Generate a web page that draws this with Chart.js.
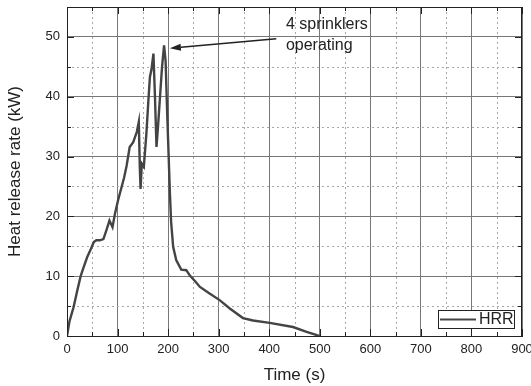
<!DOCTYPE html>
<html>
<head>
<meta charset="utf-8">
<script src="https://cdn.jsdelivr.net/npm/chart.js@4"></script>
<style>
  html, body { margin: 0; padding: 0; background: #fff; }
  #wrap { position: relative; width: 531px; height: 386px; }
</style>
</head>
<body>
<div id="wrap"><canvas id="c"></canvas></div>
<script>
// ---- data ----
const timeS = [0, 5, 13, 20, 27, 33, 40, 47, 53, 58, 65, 72, 78, 84, 90, 95, 101, 108, 113, 118, 124, 131, 138, 142, 144, 145.5, 148, 152, 157, 161, 164, 167, 171, 174, 177, 180, 184, 188, 192, 195, 198, 200, 203.5, 206, 210, 216, 226, 236, 243, 253, 263, 282, 302, 322, 348, 368, 401, 447, 474, 496, 500];
const hrrKW = [0, 2.5, 4.8, 7.5, 10, 11.5, 13.2, 14.5, 15.7, 16, 16, 16.2, 17.7, 19.3, 18.2, 20.5, 22.7, 24.9, 26.5, 28.5, 31.6, 32.4, 34.1, 35.8, 28.3, 24.6, 28.8, 28.3, 33.8, 39.4, 43.3, 44.5, 47.2, 40, 31.6, 35, 40, 45, 48.6, 46, 37.7, 32.7, 24, 19, 14.9, 12.7, 11.1, 11, 10.1, 9.2, 8.2, 7.1, 6.0, 4.6, 3.0, 2.6, 2.2, 1.5, 0.7, 0.1, 0];
const seriesLabel = 'HRR';
const xTitle = 'Time (s)';
const yTitle = 'Heat release rate (kW)';
const xMajorTicks = [0, 100, 200, 300, 400, 500, 600, 700, 800, 900];
const xMinorTicks = [50, 150, 250, 350, 450, 550, 650, 750, 850];
const yMajorTicks = [0, 10, 20, 30, 40, 50];
const yMinorTicks = [5, 15, 25, 35, 45];
const noteLines = ['4 sprinklers', 'operating'];

const FONT = '"Liberation Sans", Arial, sans-serif';
const INK = '#222';

const annotation = {
  textAt: { x: 433, y: 52.0 },      // data coords of first text line start
  lineGap: 21,                      // px between lines
  arrowFrom: { x: 414, y: 49.7 },
  arrowTo: { x: 203.5, y: 48.1 }
};

const decorPlugin = {
  id: 'decor',
  beforeDatasetsDraw(chart) {
    const { ctx, chartArea: a, scales: { x, y } } = chart;
    ctx.save();
    // minor dotted grid
    ctx.strokeStyle = '#a8a8a8';
    ctx.lineWidth = 1;
    ctx.setLineDash([2, 3]);
    xMinorTicks.forEach(v => {
      const px = Math.round(x.getPixelForValue(v)) + 0.5;
      ctx.beginPath(); ctx.moveTo(px, a.top); ctx.lineTo(px, a.bottom); ctx.stroke();
    });
    yMinorTicks.forEach(v => {
      const py = Math.round(y.getPixelForValue(v)) + 0.5;
      ctx.beginPath(); ctx.moveTo(a.left, py); ctx.lineTo(a.right, py); ctx.stroke();
    });
    ctx.setLineDash([]);
    // inward ticks on all four sides
    ctx.strokeStyle = INK;
    const tick = (vals, len, isX) => vals.forEach(v => {
      if (isX) {
        const px = Math.round(x.getPixelForValue(v)) + 0.5;
        ctx.beginPath(); ctx.moveTo(px, a.bottom); ctx.lineTo(px, a.bottom - len); ctx.stroke();
        ctx.beginPath(); ctx.moveTo(px, a.top); ctx.lineTo(px, a.top + len); ctx.stroke();
      } else {
        const py = Math.round(y.getPixelForValue(v)) + 0.5;
        ctx.beginPath(); ctx.moveTo(a.left, py); ctx.lineTo(a.left + len, py); ctx.stroke();
        ctx.beginPath(); ctx.moveTo(a.right, py); ctx.lineTo(a.right - len, py); ctx.stroke();
      }
    });
    tick(xMajorTicks, 7, true); tick(xMinorTicks, 4, true);
    tick(yMajorTicks, 7, false); tick(yMinorTicks, 4, false);
    ctx.restore();
  },
  afterDraw(chart) {
    const { ctx, chartArea: a, scales: { x, y } } = chart;
    ctx.save();
    // frame
    ctx.strokeStyle = INK;
    ctx.lineWidth = 1;
    ctx.strokeRect(Math.round(a.left) + 0.5, Math.round(a.top) + 0.5,
                   Math.round(a.right - a.left) - 1, Math.round(a.bottom - a.top));
    // annotation arrow
    const x1 = x.getPixelForValue(annotation.arrowFrom.x), y1 = y.getPixelForValue(annotation.arrowFrom.y);
    const x2 = x.getPixelForValue(annotation.arrowTo.x), y2 = y.getPixelForValue(annotation.arrowTo.y);
    const ang = Math.atan2(y2 - y1, x2 - x1);
    const hl = 11, hw = 3.5;
    const bx = x2 - hl * Math.cos(ang), by = y2 - hl * Math.sin(ang);
    ctx.lineWidth = 1.4;
    ctx.beginPath(); ctx.moveTo(x1, y1); ctx.lineTo(bx, by); ctx.stroke();
    ctx.fillStyle = INK;
    ctx.beginPath();
    ctx.moveTo(x2, y2);
    ctx.lineTo(bx + hw * Math.sin(ang), by - hw * Math.cos(ang));
    ctx.lineTo(bx - hw * Math.sin(ang), by + hw * Math.cos(ang));
    ctx.closePath(); ctx.fill();
    // annotation text
    ctx.font = '16px ' + FONT;
    ctx.textAlign = 'left';
    ctx.textBaseline = 'middle';
    const tx = x.getPixelForValue(annotation.textAt.x), ty = y.getPixelForValue(annotation.textAt.y);
    noteLines.forEach((t, i) => ctx.fillText(t, tx, ty + i * annotation.lineGap));
    // legend box (bottom right inside plot)
    const lw = 76, lh = 18;
    const lx = Math.round(a.right) - 8 - lw, ly = Math.round(a.bottom) - 8 - lh;
    ctx.fillStyle = '#fff';
    ctx.fillRect(lx, ly, lw, lh);
    ctx.lineWidth = 1;
    ctx.strokeStyle = INK;
    ctx.strokeRect(lx + 0.5, ly + 0.5, lw, lh);
    const ds = chart.data.datasets[0];
    ctx.strokeStyle = ds.borderColor;
    ctx.lineWidth = 2.2;
    ctx.beginPath(); ctx.moveTo(lx + 2, ly + lh / 2 + 0.5); ctx.lineTo(lx + 38, ly + lh / 2 + 0.5); ctx.stroke();
    ctx.fillStyle = INK;
    ctx.font = '16px ' + FONT;
    ctx.fillText(ds.label, lx + 41, ly + lh / 2 + 1);
    ctx.restore();
  }
};

new Chart(document.getElementById('c'), {
  type: 'line',
  data: {
    datasets: [{
      label: seriesLabel,
      data: timeS.map((t, i) => ({ x: t, y: hrrKW[i] })),
      borderColor: '#444',
      borderWidth: 2.4,
      pointRadius: 0,
      tension: 0,
      fill: false
    }]
  },
  options: {
    responsive: true,
    maintainAspectRatio: false,
    animation: false,
    events: [],
    layout: { padding: { top: 7, right: 9, left: 0, bottom: 0 } },
    plugins: { legend: { display: false }, tooltip: { enabled: false } },
    scales: {
      x: {
        type: 'linear', min: 0, max: 900,
        afterBuildTicks: s => { s.ticks = xMajorTicks.map(v => ({ value: v })); },
        afterFit: s => { s.height = 50; s.paddingLeft = 0; s.paddingRight = 0; },
        ticks: { font: { size: 13, family: FONT }, color: INK, padding: 6, maxRotation: 0 },
        grid: { color: '#777', lineWidth: 1, drawTicks: false },
        border: { color: INK },
        title: { display: true, text: xTitle, color: INK, font: { size: 17, family: FONT }, padding: { top: 0, bottom: 0 } }
      },
      y: {
        type: 'linear', min: 0, max: 55,
        afterBuildTicks: s => { s.ticks = yMajorTicks.map(v => ({ value: v })); },
        afterFit: s => { s.width = 67; s.paddingTop = 0; s.paddingBottom = 0; },
        ticks: { font: { size: 13, family: FONT }, color: INK, padding: 7 },
        grid: { color: '#777', lineWidth: 1, drawTicks: false },
        border: { color: INK },
        title: { display: true, text: yTitle, color: INK, font: { size: 17, family: FONT }, padding: { top: 5, bottom: 0 } }
      }
    }
  },
  plugins: [decorPlugin]
});
</script>
</body>
</html>
